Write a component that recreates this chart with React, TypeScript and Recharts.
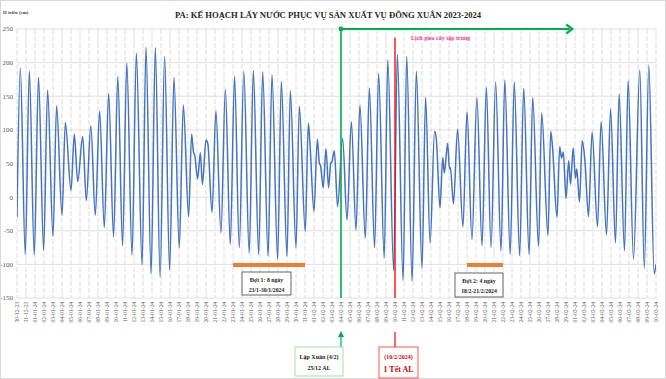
import React from 'react';
import { LineChart, Line, XAxis, YAxis, CartesianGrid, ReferenceLine } from 'recharts';

const dateLabels = [
  '30-12-23', '31-12-23',
  '01-01-24', '02-01-24', '03-01-24', '04-01-24', '05-01-24', '06-01-24', '07-01-24', '08-01-24', '09-01-24', '10-01-24',
  '11-01-24', '12-01-24', '13-01-24', '14-01-24', '15-01-24', '16-01-24', '17-01-24', '18-01-24', '19-01-24', '20-01-24',
  '21-01-24', '22-01-24', '23-01-24', '24-01-24', '25-01-24', '26-01-24', '27-01-24', '28-01-24', '29-01-24', '30-01-24', '31-01-24',
  '01-02-24', '02-02-24', '03-02-24', '04-02-24', '05-02-24', '06-02-24', '07-02-24', '08-02-24', '09-02-24', '10-02-24',
  '11-02-24', '12-02-24', '13-02-24', '14-02-24', '15-02-24', '16-02-24', '17-02-24', '18-02-24', '19-02-24', '20-02-24',
  '21-02-24', '22-02-24', '23-02-24', '24-02-24', '25-02-24', '26-02-24', '27-02-24', '28-02-24', '29-02-24',
  '01-03-24', '02-03-24', '03-03-24', '04-03-24', '05-03-24', '06-03-24', '07-03-24', '08-03-24', '09-03-24', '10-03-24',
];

// time of each tide turning point, in days since 30-12-2023 00:00
const tideTime = [
  0, 0.37, 0.92, 1.37, 1.92, 2.39, 2.96, 3.4, 4.0, 4.4,
  5.0, 5.37, 6.0, 6.37, 6.74, 7.3, 7.7, 8.2, 8.7, 9.18,
  9.7, 10.18, 10.73, 11.2, 11.73, 12.2, 12.78, 13.26, 13.9, 14.33,
  14.9, 15.37, 15.9, 16.4, 16.96, 17.44, 18.03, 18.48, 19.07, 19.4,
  19.6, 19.75, 20.07, 20.37, 20.6, 21.0, 21.2, 21.67, 22.1, 22.66,
  23.15, 23.7, 24.17, 24.7, 25.2, 25.8, 26.26, 26.85, 27.3, 27.9,
  28.33, 28.96, 29.37, 30.0, 30.37, 31.0, 31.37, 32.03, 32.37, 32.55,
  33.0, 33.37, 33.6, 33.72, 34.03, 34.33, 34.62, 34.85, 35.0, 35.26,
  35.62, 36.18, 36.67, 37.15, 37.67, 38.1, 38.7, 39.15, 39.73, 40.18,
  40.8, 41.2, 41.85, 42.26, 42.9, 43.3, 43.9, 44.37, 45.0, 45.4,
  45.9, 46.4, 46.6, 47.0, 47.3, 47.48, 47.85, 48.05, 48.15, 48.5,
  48.95, 49.55, 50.0, 50.55, 51.1, 51.67, 52.15, 52.67, 53.18, 53.78,
  54.2, 54.8, 55.25, 55.85, 56.3, 56.9, 57.3, 57.95, 58.3, 59.0,
  59.3, 59.5, 60.0, 60.3, 60.5, 60.7, 61.0, 61.3, 61.5, 61.8,
  62.05, 62.2, 62.5, 62.8, 63.1, 63.5, 63.9, 64.5, 64.9, 65.5,
  65.95, 66.5, 66.9, 67.5, 67.9, 68.5, 69.2, 69.7, 70.2, 70.8,
  71.0,
];

// water level (cm) at each turning point
const tideLevel = [
  -30, 192, -85, 187, -86, 178, -79, 159, -58, 136,
  -27, 111, 10, 94, 23, 90, -5, 106, -27, 128,
  -45, 154, -59, 179, -72, 199, -86, 214, -101, 223,
  -114, 222, -119, 209, -108, 178, -75, 137, -29, 94,
  68, 62, 27, 66, 19, 85, 80, -23, 128, -53,
  160, -70, 179, -75, 187, -83, 188, -85, 186, -88,
  182, -92, 172, -88, 158, -75, 135, -51, 110, 80,
  -21, 86, 50, 47, 14, 72, 14, 50, 53, 69,
  -14, 87, -34, 112, -49, 137, -61, 162, -75, 184,
  -91, 204, -109, 212, -124, 209, -125, 187, -105, 148,
  -68, 98, 85, -16, 59, 36, 80, 42, 44, -10,
  101, -44, 127, -63, 148, -72, 163, -75, 171, -80,
  174, -85, 171, -87, 162, -85, 148, -73, 125, -57,
  98, 75, -30, 75, 58, 67, -2, 54, 19, 73,
  28, 42, -7, 84, 55, -29, 97, -44, 112, -56,
  131, -68, 153, -80, 173, -92, 189, -106, 196, -114,
  -100,
];

const yTicks = [-150, -100, -50, 0, 50, 100, 150, 200, 250];

const lapXuanDay = 36;
const tetDay = 42;
const scheduleEndDay = 61.7;
const phase1 = [24, 32];
const phase2 = [50, 54];
const phaseLevel = -101;

const data = tideTime.map((t, i) => ({ t, h: tideLevel[i] }));
const dayTicks = dateLabels.map((_, i) => i);

const SERIF = "'Liberation Serif', 'Times New Roman', serif";

const DateTick = (props: any) => {
  const { x, y, payload } = props;
  return (
    <text
      x={x}
      y={y}
      transform={`rotate(-90 ${x} ${y})`}
      textAnchor="end"
      dy="0.35em"
      fontSize={5.6}
      fontFamily={SERIF}
      fill="#595959"
    >
      {dateLabels[payload.value]}
    </text>
  );
};

const ArrowShape = (props: any) => {
  const { x1, y1, x2, y2 } = props;
  return (
    <g>
      <line x1={x1} y1={y1} x2={x2 - 3} y2={y2} stroke="#00B050" strokeWidth={2.2} />
      <polyline
        points={`${x2 - 6},${y2 - 4.5} ${x2},${y2} ${x2 - 6},${y2 + 4.5}`}
        fill="none"
        stroke="#00B050"
        strokeWidth={2.2}
      />
      <circle cx={x1} cy={y1} r={2.4} fill="#00B050" />
    </g>
  );
};

export default function App() {
  return (
    <div style={{ position: 'absolute', left: 0, top: 0, width: 666, height: 379, background: '#fff' }}>
      <LineChart
        width={666}
        height={379}
        data={data}
        margin={{ top: 29, right: 10, left: 0, bottom: 0 }}
      >
        <CartesianGrid horizontal={true} vertical={false} stroke="#d9d9d9" strokeWidth={0.8} />
        <CartesianGrid horizontal={false} vertical={true} stroke="#cfcfcf" strokeWidth={0.7} strokeDasharray="5 2" />
        <XAxis
          dataKey="t"
          type="number"
          domain={[0, 71]}
          ticks={dayTicks}
          interval={0}
          height={81}
          tickSize={0}
          tickMargin={4}
          axisLine={false}
          tickLine={false}
          tick={<DateTick />}
          allowDataOverflow
        />
        <YAxis
          type="number"
          domain={[-150, 250]}
          ticks={yTicks}
          interval={0}
          width={17}
          tickSize={0}
          tickMargin={4}
          axisLine={false}
          tickLine={false}
          tick={{ fontSize: 7, fontFamily: SERIF, fill: '#595959' }}
          allowDataOverflow
        />
        <ReferenceLine
          segment={[{ x: phase1[0], y: phaseLevel }, { x: phase1[1], y: phaseLevel }]}
          stroke="#ED7D31"
          strokeWidth={4}
          ifOverflow="visible"
        />
        <ReferenceLine
          segment={[{ x: phase2[0], y: phaseLevel }, { x: phase2[1], y: phaseLevel }]}
          stroke="#ED7D31"
          strokeWidth={4}
          ifOverflow="visible"
        />
        <Line
          type="monotone"
          dataKey="h"
          stroke="#4472C4"
          strokeWidth={1.5}
          dot={false}
          isAnimationActive={false}
        />
        <ReferenceLine
          segment={[{ x: lapXuanDay, y: 250 }, { x: lapXuanDay, y: -150 }]}
          stroke="#00B050"
          strokeWidth={1.6}
          ifOverflow="visible"
        />
        <ReferenceLine
          segment={[{ x: tetDay, y: 237 }, { x: tetDay, y: -150 }]}
          stroke="#FF0000"
          strokeWidth={1.3}
          ifOverflow="visible"
        />
        <ReferenceLine
          segment={[{ x: lapXuanDay, y: 250 }, { x: scheduleEndDay, y: 250 }]}
          shape={<ArrowShape />}
          ifOverflow="visible"
        />
      </LineChart>
      <svg
        width={666}
        height={379}
        style={{ position: 'absolute', left: 0, top: 0, pointerEvents: 'none' }}
        fontFamily={SERIF}
      >
        <rect x={0.5} y={0.5} width={665} height={378} fill="none" stroke="#d9d9d9" />
        <text x={3} y={14} fontSize={4.8} fontWeight="bold" fill="#404040">H triều (cm)</text>
        <text x={328} y={18} fontSize={8.6} fontWeight="bold" textAnchor="middle" fill="#262626">
          PA: KẾ HOẠCH LẤY NƯỚC PHỤC VỤ SẢN XUẤT VỤ ĐÔNG XUÂN 2023-2024
        </text>
        <text x={411} y={40} fontSize={6} fontWeight="bold" fill="#FF3385">Lịch gieo cấy tập trung</text>

        <rect x={242} y={272} width={49} height={23} fill="#fff" stroke="#404040" strokeWidth={0.8} />
        <text x={266.5} y={281.5} fontSize={5.8} fontWeight="bold" textAnchor="middle" fill="#1a1a1a">Đợt 1: 8 ngày</text>
        <text x={266.5} y={291.5} fontSize={5.8} fontWeight="bold" textAnchor="middle" fill="#1a1a1a">23/1-30/1/2024</text>

        <rect x={455} y={273} width={48} height={24} fill="#fff" stroke="#404040" strokeWidth={0.8} />
        <text x={479} y={282.5} fontSize={5.8} fontWeight="bold" textAnchor="middle" fill="#1a1a1a">Đợt 2: 4 ngày</text>
        <text x={479} y={292.5} fontSize={5.8} fontWeight="bold" textAnchor="middle" fill="#1a1a1a">18/2-21/2/2024</text>

        <line x1={341} y1={347} x2={341} y2={336} stroke="#00B050" strokeWidth={1.2} />
        <polygon points="338,337 341,331 344,337" fill="#00B050" />
        <rect x={295} y={347} width={48} height={29} fill="#fff" stroke="#9ad9a8" strokeWidth={0.9} />
        <text x={319} y={358.5} fontSize={6} fontWeight="bold" textAnchor="middle" fill="#1a1a1a">Lập Xuân (4/2)</text>
        <text x={319} y={369.5} fontSize={6} fontWeight="bold" textAnchor="middle" fill="#1a1a1a">25/12 AL</text>

        <line x1={395} y1={347} x2={395} y2={332} stroke="#FF0000" strokeWidth={1.2} />
        <rect x={379} y={347} width={39} height={31} fill="#fff" stroke="#FF4040" strokeWidth={0.9} />
        <text x={398.5} y={358.5} fontSize={6} fontWeight="bold" textAnchor="middle" fill="#E00000">(10/2/2024)</text>
        <text x={398.5} y={372} fontSize={8} fontWeight="bold" textAnchor="middle" fill="#E00000">1 Tết AL</text>
      </svg>
    </div>
  );
}
